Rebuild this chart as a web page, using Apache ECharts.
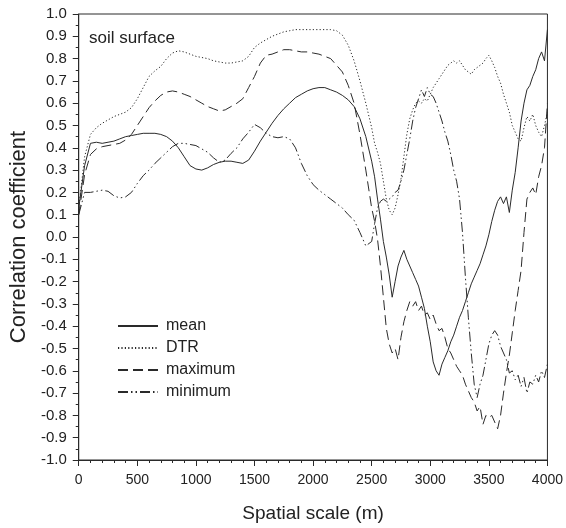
<!DOCTYPE html>
<html>
<head>
<meta charset="utf-8">
<script src="https://cdn.jsdelivr.net/npm/echarts@6/dist/echarts.min.js"></script>
<style>
  html, body { margin: 0; padding: 0; background: #fff; }
  #chart { width: 566px; height: 528px; }
</style>
</head>
<body>
<div id="chart"></div>
<script>
// Spatial scale (m) at which the correlation was evaluated
const spatialScale = [
  0, 50, 100, 150, 200, 250, 300, 350, 400, 450,
  500, 550, 600, 650, 700, 750, 800, 850, 900, 950,
  1000, 1050, 1100, 1150, 1200, 1250, 1300, 1350, 1400, 1450,
  1500, 1550, 1600, 1650, 1700, 1750, 1800, 1850, 1900, 1950,
  2000, 2050, 2100, 2150, 2200, 2250, 2300, 2350, 2400, 2450,
  2500,
  2525, 2550, 2575, 2600, 2625, 2650, 2675, 2700, 2725, 2750,
  2775, 2800, 2825, 2850, 2875, 2900, 2925, 2950, 2975, 3000,
  3025, 3050, 3075, 3100, 3125, 3150, 3175, 3200, 3225, 3250,
  3275, 3300, 3325, 3350, 3375, 3400, 3425, 3450, 3475, 3500,
  3525, 3550, 3575, 3600, 3625, 3650, 3675, 3700, 3725, 3750,
  3775, 3800, 3825, 3850, 3875, 3900, 3925, 3950, 3975, 4000
];

// Correlation coefficient, soil surface temperature
const meanCorr = [
  0.13, 0.32, 0.42, 0.425, 0.42, 0.425, 0.43, 0.44, 0.45, 0.455,
  0.46, 0.465, 0.465, 0.465, 0.46, 0.45, 0.43, 0.40, 0.36, 0.32,
  0.305, 0.30, 0.31, 0.325, 0.335, 0.34, 0.34, 0.335, 0.33, 0.345,
  0.385, 0.43, 0.47, 0.51, 0.545, 0.575, 0.60, 0.625, 0.64, 0.655,
  0.665, 0.67, 0.67, 0.66, 0.65, 0.635, 0.615, 0.585, 0.53, 0.45,
  0.34,
  0.27, 0.17, 0.08, -0.02, -0.09, -0.17, -0.27, -0.20, -0.13, -0.09,
  -0.06, -0.10, -0.13, -0.16, -0.19, -0.22, -0.27, -0.32, -0.40, -0.47,
  -0.56, -0.60, -0.62, -0.57, -0.54, -0.51, -0.47, -0.44, -0.40, -0.36,
  -0.33, -0.29, -0.25, -0.21, -0.18, -0.15, -0.12, -0.08, -0.04, 0.01,
  0.07, 0.12, 0.16, 0.18, 0.15, 0.18, 0.11, 0.21, 0.29, 0.40,
  0.52, 0.60, 0.66, 0.68, 0.72, 0.75, 0.80, 0.83, 0.79, 0.93
];

const dtrCorr = [
  0.13, 0.36, 0.46, 0.49, 0.51, 0.525, 0.54, 0.55, 0.56, 0.58,
  0.62, 0.67, 0.72, 0.745, 0.765, 0.80, 0.825, 0.835, 0.83, 0.82,
  0.81, 0.805, 0.80, 0.79, 0.785, 0.78, 0.78, 0.785, 0.79, 0.81,
  0.85, 0.87, 0.885, 0.90, 0.91, 0.92, 0.925, 0.93, 0.93, 0.93,
  0.93, 0.93, 0.93, 0.93, 0.925, 0.905, 0.86, 0.79, 0.70, 0.60,
  0.49,
  0.42, 0.38, 0.33, 0.25, 0.17, 0.12, 0.10, 0.13, 0.19, 0.26,
  0.36, 0.46, 0.53, 0.57, 0.60, 0.61, 0.60, 0.62, 0.61, 0.64,
  0.67, 0.69, 0.71, 0.73, 0.75, 0.77, 0.78, 0.79, 0.78, 0.79,
  0.77, 0.75, 0.74, 0.73, 0.75, 0.76, 0.77, 0.78, 0.80, 0.815,
  0.79, 0.76, 0.72, 0.69, 0.64, 0.60, 0.56, 0.50, 0.47, 0.44,
  0.43, 0.49, 0.54, 0.52, 0.55, 0.50, 0.47, 0.45, 0.50, 0.56
];

const maxCorr = [
  0.10, 0.28, 0.37, 0.395, 0.405, 0.41, 0.415, 0.42, 0.435, 0.46,
  0.50, 0.54, 0.58, 0.61, 0.635, 0.65, 0.655, 0.65, 0.64, 0.63,
  0.615, 0.60, 0.585, 0.575, 0.565, 0.57, 0.585, 0.60, 0.62, 0.67,
  0.72, 0.78, 0.815, 0.82, 0.83, 0.84, 0.84, 0.835, 0.83, 0.83,
  0.825, 0.82, 0.81, 0.80, 0.77, 0.74, 0.68, 0.60, 0.46, 0.30,
  0.13,
  0.07, -0.01, -0.13, -0.27, -0.41, -0.48, -0.52, -0.50, -0.55, -0.45,
  -0.38, -0.33, -0.29, -0.31, -0.29, -0.33, -0.31, -0.35, -0.34, -0.37,
  -0.35, -0.39, -0.42, -0.41, -0.45, -0.50, -0.52, -0.55, -0.58, -0.60,
  -0.62, -0.66, -0.69, -0.72, -0.74, -0.78, -0.76, -0.84, -0.80, -0.81,
  -0.80, -0.83, -0.86, -0.80, -0.70, -0.61, -0.53, -0.43, -0.33, -0.24,
  -0.15, 0.02, 0.17, 0.20, 0.22, 0.19, 0.27, 0.32, 0.40, 0.60
];

const minCorr = [
  0.10, 0.20, 0.20, 0.205, 0.21, 0.205, 0.185, 0.175, 0.18, 0.20,
  0.24, 0.275, 0.30, 0.33, 0.355, 0.38, 0.405, 0.42, 0.42, 0.415,
  0.41, 0.395, 0.38, 0.355, 0.335, 0.345, 0.375, 0.40, 0.44, 0.47,
  0.505, 0.49, 0.465, 0.45, 0.445, 0.45, 0.44, 0.40, 0.33, 0.275,
  0.235, 0.21, 0.19, 0.17, 0.15, 0.13, 0.10, 0.075, 0.02, -0.04,
  -0.02,
  0.06, 0.13, 0.16, 0.17, 0.16, 0.17, 0.18, 0.20, 0.21, 0.25,
  0.30, 0.37, 0.44, 0.52, 0.58, 0.62, 0.66, 0.63, 0.67, 0.64,
  0.63, 0.60, 0.56, 0.52, 0.47, 0.43, 0.37, 0.30, 0.25, 0.17,
  0.02, -0.18, -0.36, -0.52, -0.66, -0.72, -0.66, -0.62, -0.55, -0.48,
  -0.44, -0.42, -0.44, -0.49, -0.52, -0.55, -0.61, -0.60, -0.64, -0.62,
  -0.67, -0.63, -0.70, -0.65, -0.66, -0.62, -0.65, -0.60, -0.63, -0.57
];

const seriesNames = ['mean', 'DTR', 'maximum', 'minimum'];

const ink = '#2a2a2a';
const font = 'Liberation Sans, Arial, Helvetica, sans-serif';

function pairs(values) {
  return spatialScale.map((x, i) => [x, values[i]]);
}

function lineSeries(name, values, dash) {
  return {
    name: name,
    type: 'line',
    data: pairs(values),
    symbol: 'none',
    smooth: false,
    lineStyle: { color: ink, width: 1, type: dash },
    itemStyle: { color: ink },
    emphasis: { disabled: true },
    z: 3
  };
}

const chart = echarts.init(document.getElementById('chart'), null, { renderer: 'canvas' });

chart.setOption({
  backgroundColor: '#fff',
  animation: false,
  textStyle: { fontFamily: font },
  title: {
    text: 'soil surface',
    left: 84,
    top: 25,
    textStyle: { fontFamily: font, fontSize: 17, fontWeight: 'normal', color: '#222' }
  },
  legend: {
    data: seriesNames,
    orient: 'vertical',
    left: 112,
    top: 313,
    itemWidth: 40,
    itemHeight: 14,
    itemGap: 6,
    itemStyle: { opacity: 0 },
    textStyle: { fontFamily: font, fontSize: 16, color: '#222', padding: [0, 0, 0, 3] },
    selectedMode: false
  },
  grid: {
    left: 76,
    right: 18,
    top: 14,
    bottom: 68,
    show: true,
    borderColor: ink,
    borderWidth: 1,
    backgroundColor: 'transparent'
  },
  xAxis: {
    type: 'value',
    min: 0,
    max: 4000,
    interval: 500,
    name: 'Spatial scale (m)',
    nameLocation: 'middle',
    nameGap: 44,
    nameTextStyle: { fontFamily: font, fontSize: 19, color: '#222' },
    axisLine: { show: true, onZero: false, lineStyle: { color: ink, width: 1 } },
    axisTick: { show: true, inside: false, length: 6, lineStyle: { color: ink } },
    minorTick: { show: true, splitNumber: 5, length: 3, lineStyle: { color: ink } },
    axisLabel: { fontFamily: font, fontSize: 14, color: '#222', margin: 13, formatter: v => String(v) },
    splitLine: { show: false }
  },
  yAxis: {
    type: 'value',
    min: -1,
    max: 1,
    interval: 0.1,
    name: 'Correlation coefficient',
    nameLocation: 'middle',
    nameGap: 44,
    nameTextStyle: { fontFamily: font, fontSize: 22, color: '#222' },
    axisLine: { show: true, onZero: false, lineStyle: { color: ink, width: 1 } },
    axisTick: { show: true, inside: false, length: 6, lineStyle: { color: ink } },
    minorTick: { show: true, splitNumber: 2, length: 3, lineStyle: { color: ink } },
    axisLabel: {
      fontFamily: font,
      fontSize: 15,
      color: '#222',
      margin: 12,
      formatter: v => (Math.abs(v) < 1e-9 ? 0 : v).toFixed(1)
    },
    splitLine: { show: false }
  },
  series: [
    lineSeries('mean', meanCorr, 'solid'),
    lineSeries('DTR', dtrCorr, [1.2, 2.2]),
    lineSeries('maximum', maxCorr, [10, 5]),
    lineSeries('minimum', minCorr, [10, 3, 1.5, 3, 1.5, 3])
  ]
});
</script>
</body>
</html>
